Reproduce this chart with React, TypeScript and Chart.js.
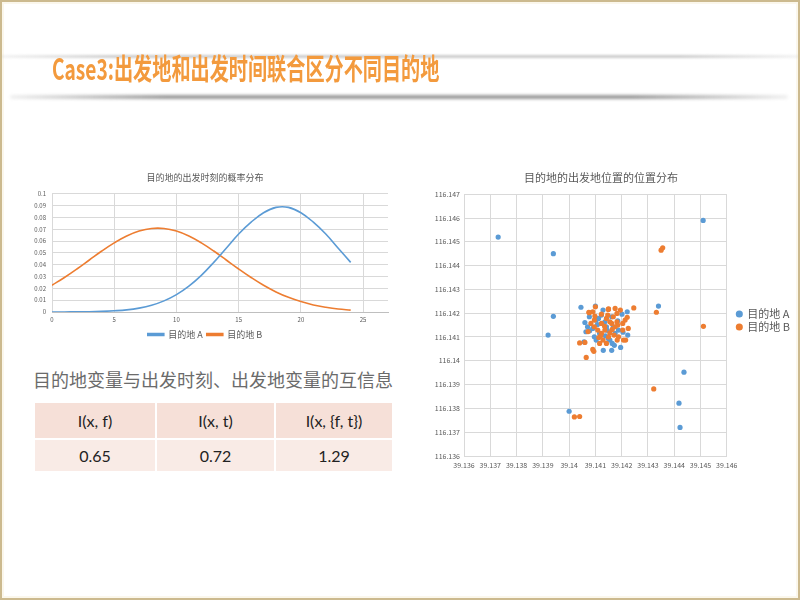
import React, { useEffect, useRef } from "react";
import { Chart, registerables } from "chart.js";
Chart.register(...registerables);

// ---------- data ----------
const hours = [0, 1, 2, 3, 4, 5, 6, 7, 8, 9, 10, 11, 12, 13, 14, 15, 16, 17, 18, 19, 20, 21, 22, 23, 24];
const destA = [0.00002, 0.00004, 0.0001, 0.0002, 0.0005, 0.001, 0.0018, 0.0033, 0.0057, 0.0094, 0.0147, 0.0219, 0.031, 0.042, 0.054, 0.066, 0.076, 0.084, 0.0885, 0.0885, 0.084, 0.076, 0.066, 0.054, 0.042];
const destB = [0.0226, 0.0292, 0.0364, 0.044, 0.0516, 0.0585, 0.0643, 0.0685, 0.0707, 0.0707, 0.0685, 0.0643, 0.0585, 0.0516, 0.044, 0.0364, 0.0292, 0.0226, 0.017, 0.0124, 0.0088, 0.006, 0.004, 0.0025, 0.0016];
const timeXTicks = [0, 5, 10, 15, 20, 25];
const timeYTicks = [0, 0.01, 0.02, 0.03, 0.04, 0.05, 0.06, 0.07, 0.08, 0.09, 0.1];

const lonTicks = [39.136, 39.137, 39.138, 39.139, 39.14, 39.141, 39.142, 39.143, 39.144, 39.145, 39.146];
const latTicks = [116.136, 116.137, 116.138, 116.139, 116.14, 116.141, 116.142, 116.143, 116.144, 116.145, 116.146, 116.147];

const originA: [number, number][] = [
  [39.1373, 116.1452], [39.1394, 116.1445], [39.1451, 116.1459], [39.14045, 116.14225],
  [39.141, 116.1423], [39.1434, 116.1423], [39.1394, 116.14187], [39.1392, 116.14108],
  [39.14437, 116.13952], [39.14418, 116.13822], [39.14422, 116.1372], [39.14, 116.13788],
  [39.1406, 116.14161], [39.14064, 116.14122], [39.14057, 116.1408], [39.1409, 116.14136],
  [39.14103, 116.14171], [39.14136, 116.14164], [39.14162, 116.14185], [39.14201, 116.14196],
  [39.14221, 116.14206], [39.14223, 116.14108], [39.14188, 116.14129], [39.14164, 116.14073],
  [39.1413, 116.14044], [39.14162, 116.14044], [39.14196, 116.14056], [39.14149, 116.14094],
  [39.14142, 116.14143], [39.14116, 116.14115], [39.14103, 116.14087], [39.14077, 116.14185],
  [39.14123, 116.14192], [39.14175, 116.14115], [39.14155, 116.14087], [39.14129, 116.14213],
  [39.14096, 116.14101], [39.14078, 116.14126], [39.14108, 116.14152], [39.14145, 116.14128],
  [39.14168, 116.14142], [39.14185, 116.14168], [39.14112, 116.14178], [39.14138, 116.14105],
  [39.14172, 116.14065], [39.14205, 116.1412], [39.1407, 116.14143],
];
const originB: [number, number][] = [
  [39.1435, 116.14465], [39.14356, 116.14475], [39.14332, 116.14204], [39.14511, 116.14145],
  [39.14322, 116.13882], [39.1402, 116.13764], [39.1404, 116.13766], [39.14065, 116.14014],
  [39.1404, 116.14075], [39.14246, 116.14222], [39.141, 116.14227], [39.1415, 116.14218],
  [39.14175, 116.1422], [39.14077, 116.14202], [39.14123, 116.14196], [39.14149, 116.14216],
  [39.14195, 116.14213], [39.14096, 116.14171], [39.14123, 116.14157], [39.14142, 116.14178],
  [39.14168, 116.14185], [39.14182, 116.14164], [39.14175, 116.14143], [39.14188, 116.14101],
  [39.14204, 116.14129], [39.14215, 116.14087], [39.14096, 116.14143], [39.14109, 116.14129],
  [39.14129, 116.14087], [39.14155, 116.14117], [39.14123, 116.14115], [39.1406, 116.14077],
  [39.1409, 116.14048], [39.14094, 116.1404], [39.14142, 116.14073], [39.14162, 116.14157],
  [39.14182, 116.14199], [39.14083, 116.14157], [39.14136, 116.14129], [39.14164, 116.14132],
  [39.14185, 116.1415], [39.14116, 116.14073], [39.14155, 116.14164], [39.14204, 116.14157],
  [39.1409, 116.14206], [39.14225, 116.14136], [39.14221, 116.14183], [39.14207, 116.14087],
  [39.14183, 116.14087], [39.14075, 116.14204], [39.1412, 116.14105], [39.14135, 116.14145],
  [39.1415, 116.141], [39.14098, 116.14188], [39.14147, 116.14192], [39.14213, 116.14171],
  [39.14072, 116.14123], [39.14171, 116.14108], [39.14113, 116.14098],
];

const seriesNames = ["目的地 A", "目的地 B"];
const slideTitle = "Case3:出发地和出发时间联合区分不同目的地";
const timeChartTitle = "目的地的出发时刻的概率分布";
const geoChartTitle = "目的地的出发地位置的位置分布";
const tableCaption = "目的地变量与出发时刻、出发地变量的互信息";
const tableHeaders = ["I(x, f)", "I(x, t)", "I(x, {f, t})"];
const tableValues = ["0.65", "0.72", "1.29"];

// ---------- styles ----------
const BLUE = "#5b9bd5";
const ORANGE = "#ed7d31";
const GRID = "#d9d9d9";
const TXT = "#595959";
const FONT = "'Noto Sans CJK SC', 'Noto Sans', sans-serif";

const fixTicks = (vals: number[]) => (scale: any) => {
  scale.ticks = vals.map((v) => ({ value: v }));
};
const fmt = (d: number) => (v: any) => String(parseFloat(Number(v).toFixed(d)));

const legendShift = {
  id: "legendShift",
  afterLayout(chart: any) {
    if (chart.legend) {
      chart.legend.left += 8;
      chart.legend.right += 8;
    }
  },
};

function TimeChart() {
  const ref = useRef<HTMLCanvasElement>(null);
  useEffect(() => {
    const chart = new Chart(ref.current!, {
      type: "line",
      data: {
        datasets: [
          {
            label: seriesNames[0],
            data: hours.map((h, i) => ({ x: h, y: destA[i] })),
            borderColor: BLUE,
            backgroundColor: BLUE,
            borderWidth: 1.6,
            pointRadius: 0,
            tension: 0.4,
            fill: false,
          },
          {
            label: seriesNames[1],
            data: hours.map((h, i) => ({ x: h, y: destB[i] })),
            borderColor: ORANGE,
            backgroundColor: ORANGE,
            borderWidth: 1.6,
            pointRadius: 0,
            tension: 0.4,
            fill: false,
          },
        ],
      },
      options: {
        responsive: false,
        animation: false,
        layout: { padding: { left: 0, right: 9, top: 0, bottom: 4 } },
        plugins: {
          title: {
            display: true,
            text: timeChartTitle,
            color: TXT,
            font: { size: 9, family: FONT, weight: "normal" },
            padding: { top: 9, bottom: 11 },
          },
          legend: {
            position: "bottom",
            labels: { boxWidth: 16, boxHeight: 2, color: TXT, font: { size: 9, family: FONT }, padding: 4 },
          },
          tooltip: { enabled: false },
        },
        scales: {
          x: {
            type: "linear",
            min: 0,
            max: 27,
            afterBuildTicks: fixTicks(timeXTicks),
            afterFit: (s: any) => {
              s.height = 14;
            },
            grid: { color: GRID, drawTicks: false },
            border: { color: "#bfbfbf" },
            ticks: { color: TXT, font: { size: 6, family: FONT }, padding: 4, maxRotation: 0 },
          },
          y: {
            min: 0,
            max: 0.1,
            afterBuildTicks: fixTicks(timeYTicks),
            afterFit: (s: any) => {
              s.width = 30;
            },
            grid: { color: GRID, drawTicks: false },
            border: { display: false },
            ticks: { color: TXT, font: { size: 6, family: FONT }, padding: 6, callback: fmt(2) },
          },
        },
      } as any,
    });
    return () => chart.destroy();
  }, []);
  return <canvas ref={ref} width={375} height={190} />;
}

function GeoChart() {
  const ref = useRef<HTMLCanvasElement>(null);
  useEffect(() => {
    const chart = new Chart(ref.current!, {
      type: "scatter",
      data: {
        datasets: [
          {
            label: seriesNames[0],
            data: originA.map(([x, y]) => ({ x, y })),
            backgroundColor: BLUE,
            borderColor: BLUE,
            borderWidth: 0,
            pointRadius: 2.6,
            order: 1,
          },
          {
            label: seriesNames[1],
            data: originB.map(([x, y]) => ({ x, y })),
            backgroundColor: ORANGE,
            borderColor: ORANGE,
            borderWidth: 0,
            pointRadius: 2.6,
            order: 0,
          },
        ],
      },
      plugins: [legendShift],
      options: {
        responsive: false,
        animation: false,
        layout: { padding: { left: 0, right: 3, top: 0, bottom: 0 } },
        plugins: {
          title: {
            display: true,
            text: geoChartTitle,
            color: TXT,
            font: { size: 11, family: FONT, weight: "normal" },
            padding: { top: 8, bottom: 10 },
          },
          legend: {
            position: "right",
            labels: {
              usePointStyle: true,
              pointStyle: "circle",
              boxWidth: 5,
              boxHeight: 5,
              color: TXT,
              font: { size: 11, family: FONT },
              padding: 2,
              sort: (a: any, b: any) => a.datasetIndex - b.datasetIndex,
            },
          },
          tooltip: { enabled: false },
        },
        scales: {
          x: {
            type: "linear",
            min: 39.136,
            max: 39.146,
            afterBuildTicks: fixTicks(lonTicks),
            afterFit: (s: any) => {
              s.height = 22;
            },
            grid: { color: GRID, drawTicks: false },
            border: { color: GRID },
            ticks: { color: TXT, font: { size: 7, family: FONT }, padding: 5, maxRotation: 0, callback: fmt(3) },
          },
          y: {
            min: 116.136,
            max: 116.147,
            afterBuildTicks: fixTicks(latTicks),
            afterFit: (s: any) => {
              s.width = 54;
            },
            grid: { color: GRID, drawTicks: false },
            border: { color: GRID },
            ticks: { color: TXT, font: { size: 7, family: FONT }, padding: 4, callback: fmt(3) },
          },
        },
      } as any,
    });
    return () => chart.destroy();
  }, []);
  return <canvas ref={ref} width={385} height={315} />;
}

export default function App() {
  const abs = (l: number, t: number, extra: React.CSSProperties = {}): React.CSSProperties => ({
    position: "absolute",
    left: l,
    top: t,
    ...extra,
  });
  return (
    <div
      style={{
        position: "absolute",
        left: 0,
        top: 0,
        width: 800,
        height: 600,
        background: "#fff",
        overflow: "hidden",
        boxSizing: "border-box",
        border: "2px solid #ccba8f",
        fontFamily: FONT,
      }}
    >
      <div style={{ position: "absolute", inset: 0, border: "2px solid #fbf7ec" }} />
      {/* top light band */}
      <div
        style={abs(-2, 53, {
          width: 800,
          height: 3,
          background: "linear-gradient(to right, rgba(200,200,200,0.2), rgba(200,200,200,0.9) 15%, rgba(200,200,200,0.9) 85%, rgba(200,200,200,0.2))",
          filter: "blur(1px)",
        })}
      />
      {/* bottom shadow */}
      <div
        style={abs(8, 93, {
          width: 778,
          height: 4,
          borderRadius: 3,
          background: "linear-gradient(to right, rgba(120,120,120,0.1), rgba(120,120,120,0.75) 20%, rgba(120,120,120,0.75) 80%, rgba(120,120,120,0.1))",
          filter: "blur(1.5px)",
        })}
      />
      <div
        style={abs(50, 49, {
          fontSize: 29,
          lineHeight: "32px",
          fontWeight: 700,
          color: "#f39a3d",
          whiteSpace: "nowrap",
          transform: "scaleX(0.66)",
          transformOrigin: "left center",
        })}
      >
        {slideTitle}
      </div>

      <div style={abs(20, 161)}>
        <TimeChart />
      </div>
      <div style={abs(408, 161)}>
        <GeoChart />
      </div>

      <div style={abs(31, 365, { fontSize: 18, lineHeight: "24px", color: "#6b6b6b", whiteSpace: "nowrap" })}>
        {tableCaption}
      </div>
      <div
        style={abs(33, 401, {
          width: 357,
          display: "grid",
          gridTemplateColumns: "120px 117px 116px",
          gridTemplateRows: "35px 31px",
          gap: 2,
          fontFamily: "Lato, 'Open Sans', sans-serif",
          fontSize: 16,
          color: "#222",
        })}
      >
        {tableHeaders.map((h) => (
          <div key={h} style={{ background: "#f6e0d8", display: "flex", alignItems: "center", justifyContent: "center" }}>
            {h}
          </div>
        ))}
        {tableValues.map((v, i) => (
          <div key={i} style={{ background: "#f9ebe6", display: "flex", alignItems: "center", justifyContent: "center" }}>
            {v}
          </div>
        ))}
      </div>
    </div>
  );
}
